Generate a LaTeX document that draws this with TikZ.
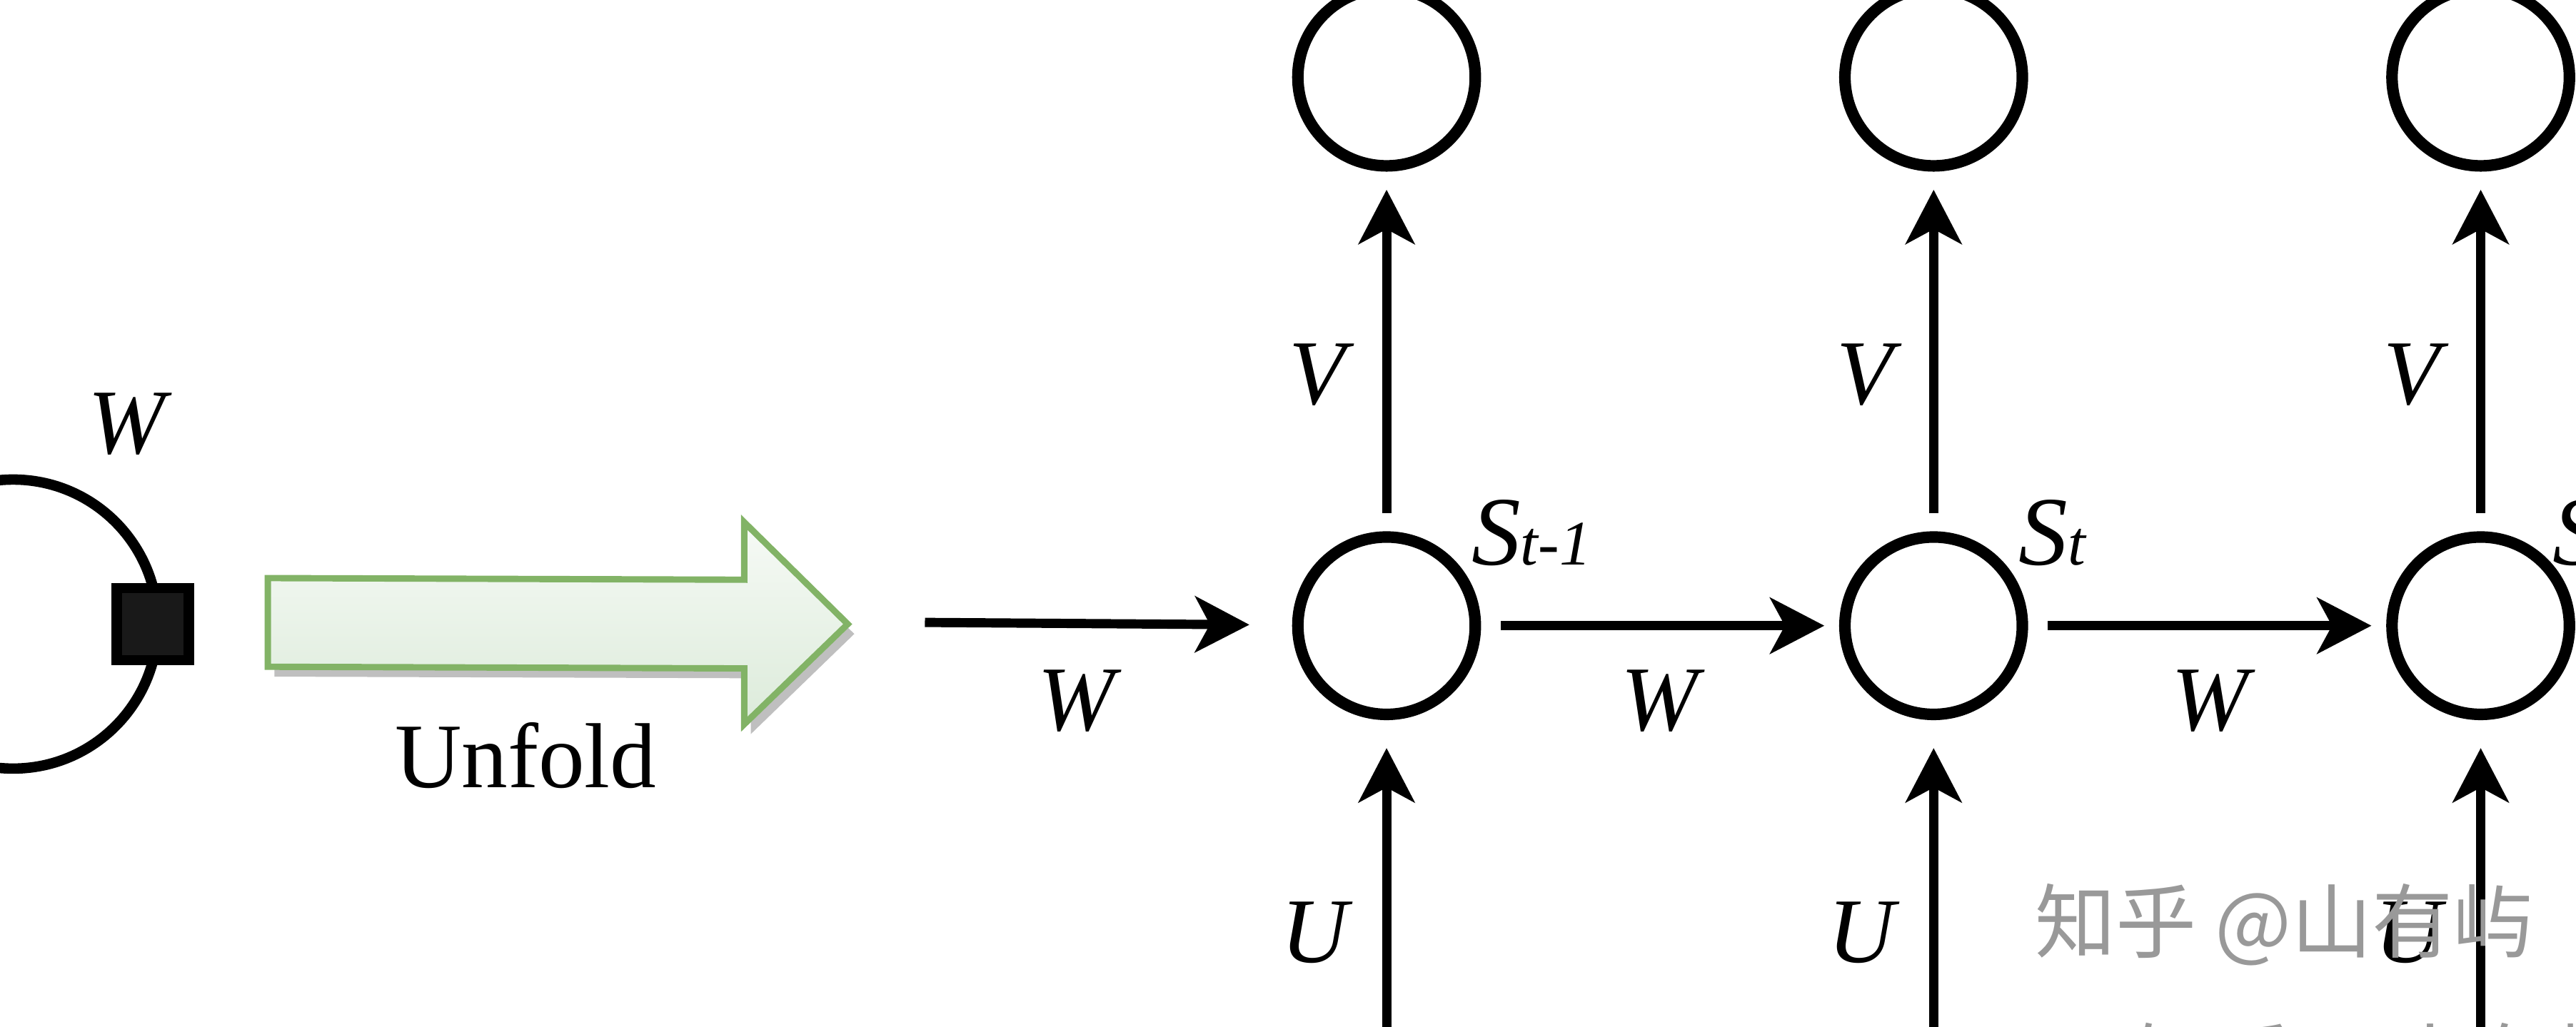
\documentclass[tikz,border=0pt]{standalone}
\usepackage{fontspec}
\setmainfont{Liberation Serif}
\newfontfamily\cjk{Noto Sans CJK SC}
\usetikzlibrary{arrows.meta,positioning}
\definecolor{unfoldline}{HTML}{82B366}
\definecolor{unfoldfill}{HTML}{DCEBDA}

\begin{document}
\begin{tikzpicture}[x=0.1mm,y=-0.1mm,>={Stealth[length=3.3mm,width=3.4mm,inset=0.9mm]},
  unit/.style={circle,draw,line width=2pt,minimum size=10.8mm,inner sep=0pt},
  link/.style={->,line width=1.6pt},
  lab/.style={font=\fontsize{16}{18}\selectfont\itshape},
  state/.style={font=\fontsize{17}{18}\selectfont\itshape,anchor=base west,inner sep=0pt},
  wmark/.style={font=\fontsize{14}{15}\selectfont\cjk,text=black!40,inner sep=0pt}]
\useasboundingbox (0,0) rectangle (1568,625);
\clip (0,0) rectangle (1568,625);
% folded network
\node[circle,draw,line width=1.8pt,minimum size=17.6mm,inner sep=0pt] (loop) at (8,380) {};
\node[draw,line width=1.8pt,fill=black!90,minimum size=4.4mm,inner sep=0pt] (delay) at (93,380) {};
\node[lab] (wloop) at (77,258) {W};
% unfold arrow
\fill[black!25,shift={(4,6)}] (163,352) -- (453,353) -- (453,318) -- (516,380) -- (453,441) -- (453,407) -- (163,406) -- cycle;
\draw[unfoldline,line width=1.1pt,top color=unfoldfill!25,bottom color=unfoldfill] (163,352) -- (453,353) -- (453,318) -- (516,380) -- (453,441) -- (453,407) -- (163,406) -- cycle;
\node[font=\fontsize{16}{18}\selectfont] (unfold) at (320,460) {Unfold};
% unrolled network
\node[unit] (h1) at (844,381) {};
\node[unit] (h2) at (1177,381) {};
\node[unit] (h3) at (1510,381) {};
\node[unit] (o1) at (844,47) {};
\node[unit] (o2) at (1177,47) {};
\node[unit] (o3) at (1510,47) {};
\coordinate (x1) at (844,700);
\coordinate (x2) at (1177,700);
\coordinate (x3) at (1510,700);
\coordinate (w0) at (563,379);
\draw[link,shorten >=2.6mm] (w0) -- (h1);
\draw[link,shorten <=1.2mm,shorten >=0.9mm] (h1) -- (h2);
\draw[link,shorten <=1.2mm,shorten >=0.9mm] (h2) -- (h3);
\foreach \i in {1,2,3} {
  \draw[link,shorten <=1.1mm,shorten >=1.1mm] (h\i) -- (o\i);
  \draw[link,shorten >=1.7mm] (x\i) -- (h\i);
}
\node[lab] (w1) at (655,427) {W};
\node[lab] (w2) at (1010,427) {W};
\node[lab] (w3) at (1345,427) {W};
\node[lab] (v1) at (802,228) {V};
\node[lab] (v2) at (1135,228) {V};
\node[lab] (v3) at (1468,228) {V};
\node[lab] (u1) at (800,568) {U};
\node[lab] (u2) at (1133,568) {U};
\node[lab] (u3) at (1466,568) {U};
\node[state] (s1) at (895,344) {S{\fontsize{11}{12}\selectfont t-1}};
\node[state] (s2) at (1228,344) {S{\fontsize{11}{12}\selectfont t}};
\node[state] (s3) at (1553,344) {S};
% watermark
\node[wmark,anchor=west] (zh1) at (1238,563) {知乎 @山有屿};
\node[wmark,anchor=west] (zh2) at (1298,648) {知乎 @山有屿};
\end{tikzpicture}
\end{document}
